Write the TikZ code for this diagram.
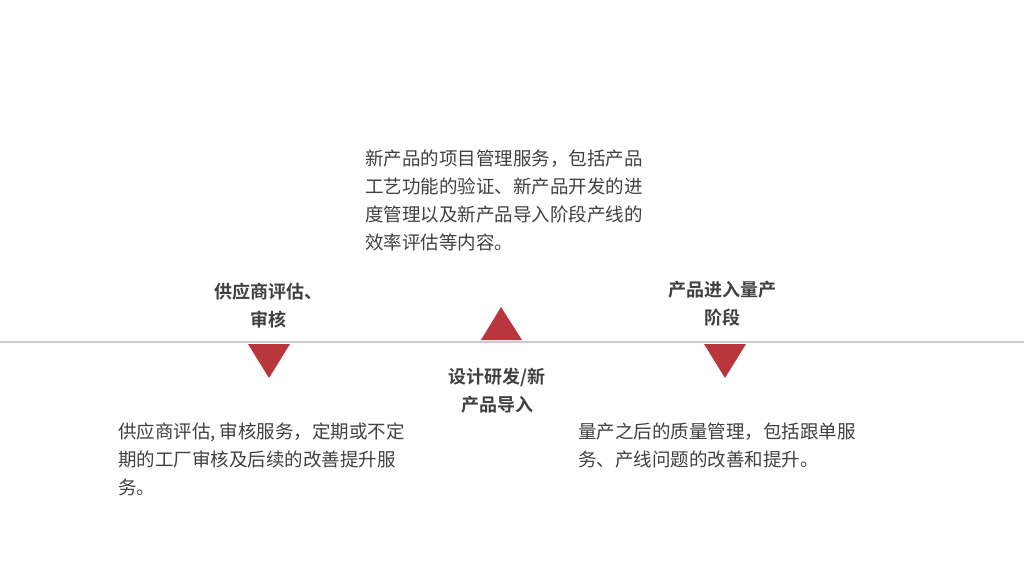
\documentclass[tikz,border=0pt]{standalone}
\usepackage{fontspec}
\setmainfont{Noto Sans CJK SC}
\newfontfamily\cjkb{Noto Sans CJK SC Bold}
\definecolor{tri}{HTML}{B8363C}
\definecolor{txt}{HTML}{404040}
\begin{document}
\begin{tikzpicture}[x=1pt,y=-1pt,
  para/.style={anchor=north west,align=left,text=txt,font=\fontsize{18.5}{28}\selectfont,inner sep=0pt},
  head/.style={align=center,text=txt,font=\cjkb\fontsize{18}{28}\selectfont,inner sep=0pt},
  tri/.style={fill=tri,draw=none}]
\useasboundingbox (0,0) rectangle (1024,576);
\draw[draw=black!20,line width=1.2pt] (0,342) -- (1024,342);
\fill[tri] (248,344) -- (290,344) -- (269,378) -- cycle;
\fill[tri] (481,340) -- (522,340) -- (501,307) -- cycle;
\fill[tri] (704,344) -- (746,344) -- (725,378) -- cycle;
\node[head] (h1) at (268,306) {供应商评估、\\审核};
\node[head] (h2) at (497,391) {设计研发/新\\产品导入};
\node[head] (h3) at (722,304) {产品进入量产\\阶段};
\node[para] (p2) at (365,150) {新产品的项目管理服务，包括产品\\工艺功能的验证、新产品开发的进\\度管理以及新产品导入阶段产线的\\效率评估等内容。};
\node[para] (p1) at (118,423) {供应商评估, 审核服务，定期或不定\\期的工厂审核及后续的改善提升服\\务。};
\node[para] (p3) at (578,423) {量产之后的质量管理，包括跟单服\\务、产线问题的改善和提升。};
\end{tikzpicture}
\end{document}
